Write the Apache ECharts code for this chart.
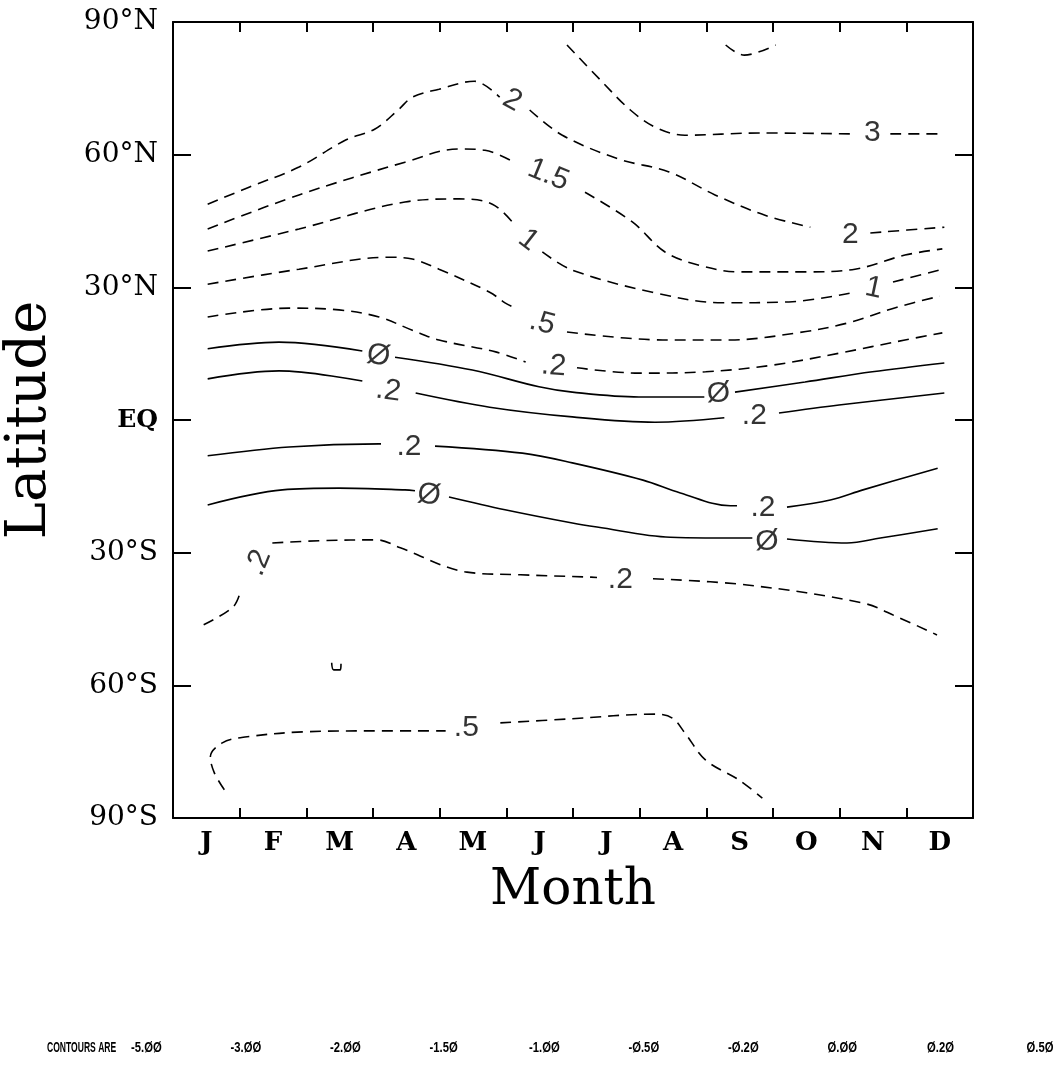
<!DOCTYPE html>
<html>
<head>
<meta charset="utf-8">
<script src="https://cdn.jsdelivr.net/npm/echarts@6/dist/echarts.min.js"></script>
<style>
  html, body { margin: 0; padding: 0; background: #fff; }
  #main { width: 1060px; height: 1086px; }
</style>
</head>
<body>
<div id="main"></div>
<script>
// month bands, latitude ticks
var months = ['J', 'F', 'M', 'A', 'M', 'J', 'J', 'A', 'S', 'O', 'N', 'D'];
var latTicks = ['90°S', '60°S', '30°S', 'EQ', '30°N', '60°N', '90°N'];
var contourLevels = ['-5.ØØ', '-3.ØØ', '-2.ØØ', '-1.5Ø', '-1.ØØ', '-Ø.5Ø', '-Ø.2Ø', 'Ø.ØØ', 'Ø.2Ø', 'Ø.5Ø'];

// contour lines, [month position (J centre = 0.5), latitude]
// each contour is split where its label sits
var cMinus5 = [
  [[8.29, 84.8], [8.57, 82.5], [9.04, 84.8]]
];
var cMinus3 = [
  [[5.91, 84.8], [6.41, 76.9], [6.86, 70.1], [7.26, 66.0], [7.68, 64.4], [8.81, 64.9], [10.16, 64.7]],
  [[10.76, 64.7], [11.57, 64.7]]
];
var cMinus2 = [
  [[0.52, 48.8], [1.15, 52.7], [1.89, 57.2], [2.59, 63.3], [3.03, 65.8], [3.39, 70.3], [3.59, 73.0], [3.99, 74.8], [4.52, 76.6], [4.90, 73.0]],
  [[5.35, 70.1], [5.84, 64.4], [6.69, 59.0], [7.44, 56.1], [8.13, 50.9], [8.88, 46.3], [9.56, 43.6]],
  [[10.46, 42.3], [11.57, 43.6]]
];
var cMinus15 = [
  [[0.52, 43.2], [1.89, 50.9], [3.48, 58.3], [4.29, 61.3], [4.68, 61.0], [5.14, 58.1]],
  [[6.18, 51.5], [6.89, 44.8], [7.38, 38.0], [7.89, 35.0], [8.49, 33.5], [9.48, 33.5], [10.23, 34.1], [10.98, 37.3], [11.54, 38.7]]
];
var cMinus1 = [
  [[0.52, 38.2], [1.89, 43.2], [3.48, 49.3], [4.29, 50.0], [4.79, 48.8], [5.14, 43.9]],
  [[5.54, 38.0], [5.99, 33.9], [7.19, 28.9], [8.24, 26.5], [9.24, 26.7], [10.16, 28.7]],
  [[10.80, 31.2], [11.50, 33.9]]
];
var cMinus05N = [
  [[0.52, 30.7], [1.89, 34.1], [3.24, 36.8], [3.59, 36.4], [3.99, 34.1], [4.75, 28.9], [4.98, 26.5], [5.14, 25.3]],
  [[5.91, 19.9], [7.35, 18.1], [8.36, 18.1], [9.36, 19.7], [10.11, 21.9], [10.86, 25.5], [11.50, 28.0]]
];
var cMinus02N = [
  [[0.52, 23.3], [1.74, 25.3], [2.49, 24.9], [3.09, 23.3], [3.59, 20.3], [3.99, 18.1], [4.84, 15.4], [5.29, 13.1]],
  [[6.06, 11.8], [6.99, 10.6], [7.99, 10.9], [8.99, 12.4], [9.99, 15.1], [10.98, 18.1], [11.54, 19.7]]
];
var cZeroN = [
  [[0.52, 16.1], [1.59, 17.6], [2.84, 15.6]],
  [[3.33, 14.2], [4.49, 11.3], [5.49, 7.5], [5.99, 6.3], [6.99, 5.2], [7.97, 5.2]],
  [[8.43, 6.3], [9.48, 8.6], [10.49, 10.9], [11.57, 12.9]]
];
var cPlus02N = [
  [[0.52, 9.3], [1.59, 11.1], [2.84, 8.8]],
  [[3.64, 6.1], [4.75, 2.9], [5.99, 0.7], [7.23, -0.5], [8.27, 0.5]],
  [[9.09, 1.6], [9.99, 3.4], [11.57, 6.1]]
];
var cPlus02S = [
  [[0.52, -8.1], [1.74, -6.1], [3.09, -5.4], [3.12, -5.4]],
  [[3.93, -5.9], [5.24, -7.5], [5.99, -9.7], [7.05, -13.6], [7.61, -16.5], [8.36, -19.4], [8.46, -19.4]],
  [[9.21, -19.7], [9.86, -18.1], [10.35, -15.8], [11.47, -10.9]]
];
var cZeroS = [
  [[0.52, -19.2], [1.64, -15.8], [2.49, -15.4], [3.48, -15.8], [3.63, -16.0]],
  [[4.14, -17.4], [4.98, -20.3], [5.99, -23.3], [6.36, -24.2], [7.46, -26.5], [8.69, -26.7]],
  [[9.21, -26.9], [10.11, -27.8], [10.61, -26.7], [11.47, -24.6]]
];
var cMinus02S = [
  [[0.46, -46.3], [0.90, -42.3], [1.01, -38.9]],
  [[1.49, -27.8], [2.20, -27.3], [3.06, -27.1], [3.41, -28.9], [4.41, -34.4], [5.21, -35.0], [6.21, -35.5], [6.36, -35.6]],
  [[7.20, -35.9], [8.61, -37.3], [10.35, -41.4], [10.86, -44.5], [11.46, -48.6]]
];
var cMinus05S = [
  [[0.77, -83.6], [0.62, -79.8], [0.56, -76.2], [0.74, -73.0], [1.08, -71.7], [1.98, -70.5], [2.99, -70.3], [4.09, -70.3]],
  [[4.91, -68.5], [5.94, -67.6], [7.23, -66.5], [7.49, -67.4], [7.68, -70.8], [7.99, -76.9], [8.49, -81.4], [8.84, -85.5]]
];
var cTiny = [
  [[2.38, -54.9], [2.41, -56.5], [2.51, -56.5], [2.52, -55.1]]
];

// inline contour labels: [month position, latitude, text]
var contourLabels = [
  [5.09, 72.3, '2'], [5.63, 55.4, '1.5'], [5.33, 40.7, '1'], [5.54, 21.9, '.5'], [5.71, 12.2, '.2'],
  [3.08, 14.5, 'Ø'], [3.23, 6.6, '.2'], [3.54, -6.1, '.2'], [3.84, -17.0, 'Ø'], [1.28, -32.3, '.2'],
  [10.49, 64.9, '3'], [10.16, 42.0, '2'], [10.51, 29.8, '1'], [8.18, 5.9, 'Ø'], [8.72, 0.9, '.2'],
  [8.85, -19.9, '.2'], [8.91, -27.6, 'Ø'], [6.71, -36.2, '.2'], [4.40, -69.6, '.5']
];
var labelTilt = [-28, -22, -38, -15, -5, -10, -8, 0, -8, 68, 0, 0, -12, 0, 0, 0, 0, 0, 0];

var dash = [11, 7];
var series = [];

function addContour(segs, dashed) {
  for (var i = 0; i < segs.length; i++) {
    series.push({
      type: 'line',
      xAxisIndex: 2,
      yAxisIndex: 0,
      data: segs[i],
      smooth: 0.35,
      symbol: 'none',
      silent: true,
      lineStyle: { color: '#000', width: 1.6, type: dashed ? dash : 'solid' }
    });
  }
}

addContour(cMinus5, true);
addContour(cMinus3, true);
addContour(cMinus2, true);
addContour(cMinus15, true);
addContour(cMinus1, true);
addContour(cMinus05N, true);
addContour(cMinus02N, true);
addContour(cZeroN, false);
addContour(cPlus02N, false);
addContour(cPlus02S, false);
addContour(cZeroS, false);
addContour(cMinus02S, true);
addContour(cMinus05S, true);
addContour(cTiny, false);

// the labels
var labelData = [];
for (var i = 0; i < contourLabels.length; i++) {
  labelData.push({
    value: [contourLabels[i][0], contourLabels[i][1]],
    name: contourLabels[i][2],
    label: { rotate: labelTilt[i] }
  });
}
series.push({
  type: 'scatter',
  xAxisIndex: 2,
  yAxisIndex: 0,
  symbolSize: 1,
  itemStyle: { color: 'rgba(0,0,0,0)' },
  silent: true,
  data: labelData,
  label: {
    show: true,
    position: 'inside',
    formatter: '{b}',
    color: '#000',
    fontFamily: 'Liberation Sans',
    fontSize: 30
  }
});

// bottom line of contour values
var smallFont = 'bold 15px "Liberation Sans", sans-serif';
var graphics = [{
  type: 'text', x: 47, y: 1040, scaleX: 0.57,
  style: { text: 'CONTOURS ARE', font: smallFont, fill: '#000' }
}];
for (var i = 0; i < contourLevels.length; i++) {
  graphics.push({
    type: 'text', x: 131 + i * 99.5, y: 1040, scaleX: 0.75,
    style: { text: contourLevels[i], font: smallFont, fill: '#000' }
  });
}

var axisLine = { show: true, onZero: false, lineStyle: { color: '#000', width: 2 } };

var option = {
  animation: false,
  backgroundColor: '#fff',
  grid: { left: 173, top: 22, width: 800, height: 796, outerBoundsMode: 'none', containLabel: false },
  xAxis: [
    {
      type: 'category', data: months, position: 'bottom', boundaryGap: true,
      axisLine: axisLine,
      axisTick: { show: true, inside: true, length: 10, lineStyle: { color: '#000', width: 2 } },
      axisLabel: { color: '#000', fontFamily: 'DejaVu Serif', fontWeight: 'bold', fontSize: 26, margin: 12 },
      splitLine: { show: false },
      name: 'Month', nameLocation: 'middle', nameGap: 48,
      nameTextStyle: { color: '#000', fontFamily: 'DejaVu Serif', fontSize: 50 }
    },
    {
      type: 'category', data: months, position: 'top', boundaryGap: true,
      axisLine: axisLine,
      axisTick: { show: true, inside: true, length: 10, lineStyle: { color: '#000', width: 2 } },
      axisLabel: { show: false },
      splitLine: { show: false }
    },
    { type: 'value', min: 0, max: 12, show: false }
  ],
  yAxis: [
    {
      type: 'value', min: -90, max: 90, interval: 30, position: 'left',
      axisLine: axisLine,
      axisTick: { show: true, inside: true, length: 18, lineStyle: { color: '#000', width: 2 } },
      axisLabel: {
        color: '#000', fontFamily: 'DejaVu Serif', fontSize: 28, margin: 15,
        formatter: function (v) {
          var t = latTicks[Math.round((v + 90) / 30)];
          return t === 'EQ' ? '{eq|EQ}' : t;
        },
        rich: { eq: { fontFamily: 'DejaVu Serif', fontWeight: 'bold', fontSize: 25, color: '#000' } }
      },
      splitLine: { show: false },
      name: 'Latitude', nameLocation: 'middle', nameGap: 115, nameRotate: 90,
      nameTextStyle: { color: '#000', fontFamily: 'DejaVu Serif', fontSize: 56 }
    },
    {
      type: 'value', min: -90, max: 90, interval: 30, position: 'right',
      axisLine: axisLine,
      axisTick: { show: true, inside: true, length: 18, lineStyle: { color: '#000', width: 2 } },
      axisLabel: { show: false },
      splitLine: { show: false }
    }
  ],
  graphic: graphics,
  series: series
};

var myChart = echarts.init(document.getElementById('main'));
myChart.setOption(option);
</script>
</body>
</html>
